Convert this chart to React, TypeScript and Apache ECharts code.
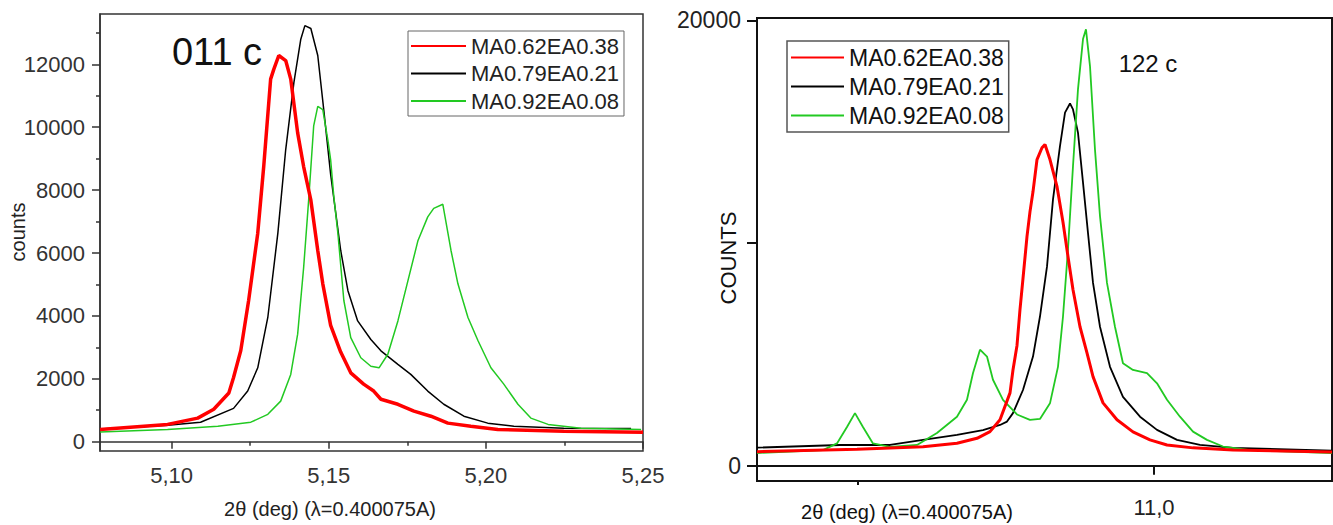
import React, { useEffect, useRef } from "react";
import * as echarts from "echarts";

// ---- DATA ----
const seriesNames = ["MA0.62EA0.38", "MA0.79EA0.21", "MA0.92EA0.08"];

// Left panel (011 c): [2theta, counts]
const leftRed: number[][] = [
  [5.0772, 390], [5.0987, 550], [5.1083, 750], [5.1134, 1030], [5.1182, 1550], [5.1197, 2040],
  [5.122, 2900], [5.1245, 4490], [5.1274, 6630], [5.1293, 8750], [5.1315, 11530], [5.1325, 11840],
  [5.1341, 12280], [5.1363, 12120], [5.1379, 11530], [5.1401, 9820], [5.142, 8750], [5.1443, 7680],
  [5.1465, 6080], [5.1481, 5020], [5.1506, 3700], [5.1538, 2850], [5.157, 2190], [5.1611, 1830],
  [5.1643, 1610], [5.1666, 1350], [5.172, 1190], [5.1771, 970], [5.1825, 810], [5.1879, 590],
  [5.1952, 490], [5.2038, 390], [5.2248, 330], [5.25, 300],
];
const leftBlack: number[][] = [
  [5.0772, 400], [5.0987, 520], [5.1092, 620], [5.1197, 1060], [5.1242, 1610], [5.1274, 2350],
  [5.1306, 3950], [5.1338, 6630], [5.1363, 9290], [5.1389, 11420], [5.1411, 12800], [5.1424, 13230],
  [5.1443, 13140], [5.1465, 12280], [5.1484, 10560], [5.1506, 8500], [5.1538, 6080], [5.1561, 4800],
  [5.1592, 3840], [5.1634, 3250], [5.1666, 2890], [5.172, 2460], [5.1761, 2140], [5.1815, 1610],
  [5.1866, 1190], [5.193, 810], [5.2006, 590], [5.2089, 490], [5.2248, 430], [5.2462, 420],
];
const leftGreen: number[][] = [
  [5.0772, 310], [5.0987, 390], [5.1147, 490], [5.1252, 620], [5.1306, 870], [5.1347, 1290],
  [5.1379, 2140], [5.1401, 3420], [5.142, 5530], [5.1436, 7680], [5.1452, 10040], [5.1465, 10660],
  [5.1481, 10560], [5.1497, 9600], [5.1506, 8960], [5.1516, 7800], [5.1529, 6630], [5.1548, 4490],
  [5.157, 3310], [5.1602, 2670], [5.1634, 2400], [5.166, 2350], [5.1688, 2780], [5.172, 3840],
  [5.1752, 5120], [5.1784, 6400], [5.1815, 7150], [5.1834, 7420], [5.1863, 7550], [5.1889, 6080],
  [5.1911, 5020], [5.1943, 3950], [5.1975, 3210], [5.2016, 2350], [5.2057, 1830], [5.2102, 1190],
  [5.2143, 750], [5.2198, 550], [5.2303, 430], [5.2494, 390],
];

// Right panel (122 c): [2theta, counts]
const rightRed: number[][] = [
  [10.93294, 630], [10.94983, 740], [10.96098, 855], [10.96672, 1010], [10.9701, 1230], [10.9723, 1530],
  [10.97399, 2060], [10.97568, 3270], [10.97618, 4300], [10.97686, 5400], [10.97736, 7000], [10.97787, 8400],
  [10.97855, 10300], [10.97905, 11400], [10.97956, 12300], [10.98024, 13750], [10.98108, 14280],
  [10.98159, 14430], [10.98243, 13750], [10.98361, 12550], [10.98463, 10930], [10.98547, 9400],
  [10.98632, 7900], [10.9875, 6240], [10.98868, 5070], [10.9897, 4000], [10.99139, 2820], [10.99375, 2060],
  [10.99645, 1520], [10.99932, 1160], [11.0022, 930], [11.00659, 800], [11.01334, 700], [11.03007, 620],
];
const rightBlack: number[][] = [
  [10.93294, 810], [10.94696, 930], [10.95541, 930], [10.96098, 1160], [10.96672, 1380], [10.97111, 1600],
  [10.97399, 1830], [10.97517, 1980], [10.97618, 2360], [10.97787, 3400], [10.97956, 4900], [10.98074, 6700],
  [10.98193, 8950], [10.98294, 11960], [10.98412, 14350], [10.98497, 15860], [10.98581, 16270],
  [10.98632, 16000], [10.98716, 14960], [10.98801, 12710], [10.98885, 10460], [10.9897, 8210],
  [10.99088, 6240], [10.99257, 4440], [10.99476, 3090], [10.99764, 2200], [11.00051, 1610], [11.00389, 1160],
  [11.00777, 930], [11.01334, 800], [11.03007, 680],
];
const rightGreen: number[][] = [
  [10.93294, 570], [10.94409, 700], [10.94645, 1000], [10.94814, 1740], [10.94949, 2360], [10.95084, 1740],
  [10.95253, 1000], [10.95541, 840], [10.95997, 930], [10.96334, 1470], [10.96672, 2200], [10.96841, 2960],
  [10.96943, 4160], [10.97061, 5210], [10.97179, 4900], [10.9728, 3860], [10.97449, 2960], [10.97686, 2300],
  [10.97905, 2060], [10.98074, 2100], [10.98243, 2800], [10.98378, 4440], [10.98463, 6700], [10.98547, 9710],
  [10.98632, 13460], [10.98716, 16900], [10.98801, 19160], [10.98851, 19600], [10.98919, 17950],
  [10.99003, 14210], [10.99088, 11210], [10.99206, 8210], [10.99341, 6240], [10.99476, 4600], [10.99645, 4300],
  [10.99882, 4160], [11.00051, 3700], [11.0022, 2960], [11.00439, 2200], [11.00659, 1530], [11.00895, 1160],
  [11.01166, 860], [11.01622, 700], [11.03007, 570],
];

// Ticks
const leftXMajor = [5.1, 5.15, 5.2, 5.25];
const leftXMinor = [5.125, 5.175, 5.225];
const leftYMajor = [0, 2000, 4000, 6000, 8000, 10000, 12000];
const leftYMinor = [1000, 3000, 5000, 7000, 9000, 11000, 13000];
const rightXMajor = [11.0];
const rightXMinor = [10.95];
const rightYTicks = [0, 10000, 20000];
const rightYLabels = [0, 20000];

const colors = ["#ff0000", "#000000", "#22c922"];
const FONT = "Liberation Sans";
const AXIS = "#333333";

export default function App() {
  const ref = useRef<HTMLDivElement>(null);
  useEffect(() => {
    if (!ref.current) return;
    const chart = echarts.init(ref.current, undefined, { renderer: "svg" });
    const comma = (v: number, d: number) => v.toFixed(d).replace(".", ",");
    const axisLine = (w: number, c: string) => ({ show: true, lineStyle: { color: c, width: w } });
    const option: any = {
      animation: false,
      backgroundColor: "#ffffff",
      textStyle: { fontFamily: FONT },
      grid: [
        { left: 100, top: 14, width: 543, height: 437, show: true, borderColor: AXIS, borderWidth: 1.5, backgroundColor: "transparent" },
        { left: 757, top: 18, width: 575, height: 463, show: true, borderColor: "#111", borderWidth: 2, backgroundColor: "transparent" },
      ],
      xAxis: [
        {
          gridIndex: 0, type: "value", position: "bottom", min: 5.0772, max: 5.25,
          axisLine: axisLine(1.5, AXIS), splitLine: { show: false },
          axisTick: { show: true, customValues: leftXMajor, length: 7, lineStyle: { color: AXIS, width: 1.5 } },
          axisLabel: { customValues: leftXMajor, formatter: (v: number) => comma(v, 2), fontSize: 22, color: "#333", margin: 13 },
        },
        {
          gridIndex: 0, type: "value", position: "bottom", min: 5.0772, max: 5.25,
          axisLine: { show: false }, splitLine: { show: false },
          axisTick: { show: true, customValues: leftXMinor, length: 4, lineStyle: { color: AXIS, width: 1.5 } },
          axisLabel: { show: false },
        },
        {
          gridIndex: 1, type: "value", position: "bottom", min: 10.93294, max: 11.03007,
          axisLine: axisLine(2, "#111"), splitLine: { show: false },
          axisTick: { show: true, customValues: rightXMajor, length: 9, lineStyle: { color: "#111", width: 2 } },
          axisLabel: { customValues: rightXMajor, formatter: (v: number) => comma(v, 1), fontSize: 22, color: "#222", margin: 15 },
        },
        {
          gridIndex: 1, type: "value", position: "bottom", min: 10.93294, max: 11.03007,
          axisLine: { show: false }, splitLine: { show: false },
          axisTick: { show: true, customValues: rightXMinor, length: 4, lineStyle: { color: "#111", width: 2 } },
          axisLabel: { show: false },
        },
      ],
      yAxis: [
        {
          gridIndex: 0, type: "value", position: "left", min: -296, max: 13600,
          axisLine: axisLine(1.5, AXIS), splitLine: { show: false },
          axisTick: { show: true, customValues: leftYMajor, length: 8, lineStyle: { color: AXIS, width: 1.5 } },
          axisLabel: { customValues: leftYMajor, formatter: (v: number) => String(Math.round(v)), fontSize: 22, color: "#333", margin: 15 },
        },
        {
          gridIndex: 0, type: "value", position: "left", min: -296, max: 13600,
          axisLine: { show: false }, splitLine: { show: false },
          axisTick: { show: true, customValues: leftYMinor, length: 4, lineStyle: { color: AXIS, width: 1.5 } },
          axisLabel: { show: false },
        },
        {
          gridIndex: 1, type: "value", position: "left", min: -688, max: 20108,
          axisLine: axisLine(2, "#111"), splitLine: { show: false },
          axisTick: { show: true, customValues: rightYTicks, length: 10, lineStyle: { color: "#111", width: 2 } },
          axisLabel: { customValues: rightYLabels, formatter: (v: number) => String(Math.round(v)), fontSize: 23, color: "#222", margin: 16 },
        },
      ],
      legend: [
        {
          orient: "vertical", left: 408, top: 31, data: seriesNames,
          itemWidth: 55, itemHeight: 22, itemGap: 5.5, itemStyle: { opacity: 0 },
          padding: [4, 5, 4, 2], borderColor: "#666", borderWidth: 1,
          textStyle: { fontSize: 22, color: "#222", fontFamily: FONT },
        },
        {
          orient: "vertical", left: 787, top: 41, data: seriesNames,
          itemWidth: 53, itemHeight: 23, itemGap: 6, itemStyle: { opacity: 0 },
          padding: [5, 5, 5, 3], borderColor: "#555", borderWidth: 1.5,
          textStyle: { fontSize: 23, color: "#111", fontFamily: FONT },
        },
      ],
      series: [
        { name: seriesNames[0], data: leftRed, w: 3.5, g: 0 },
        { name: seriesNames[1], data: leftBlack, w: 1.5, g: 0 },
        { name: seriesNames[2], data: leftGreen, w: 1.5, g: 0 },
        { name: seriesNames[0], data: rightRed, w: 3, g: 1 },
        { name: seriesNames[1], data: rightBlack, w: 1.8, g: 1 },
        { name: seriesNames[2], data: rightGreen, w: 1.8, g: 1 },
      ].map((s, i) => ({
        type: "line",
        name: s.name,
        data: s.data,
        xAxisIndex: s.g === 0 ? 0 : 2,
        yAxisIndex: s.g === 0 ? 0 : 2,
        symbol: "none",
        smooth: false,
        color: colors[i % 3],
        lineStyle: { color: colors[i % 3], width: s.w },
        z: i % 3 === 0 ? 3 : 2,
      })),
      graphic: [
        { type: "text", x: 18, y: 232, rotation: Math.PI / 2, style: { text: "counts", font: `20px ${FONT}`, fill: "#222", align: "center", verticalAlign: "middle" } },
        { type: "text", x: 330, y: 509, style: { text: "2θ (deg) (λ=0.400075A)", font: `20px ${FONT}`, fill: "#222", align: "center", verticalAlign: "middle" } },
        { type: "text", x: 217, y: 52, style: { text: "011 c", font: `38px ${FONT}`, fill: "#111", align: "center", verticalAlign: "middle" } },
        { type: "text", x: 728, y: 258, rotation: Math.PI / 2, style: { text: "COUNTS", font: `22px ${FONT}`, fill: "#111", align: "center", verticalAlign: "middle" } },
        { type: "text", x: 907, y: 512, style: { text: "2θ (deg) (λ=0.400075A)", font: `20px ${FONT}`, fill: "#111", align: "center", verticalAlign: "middle" } },
        { type: "text", x: 1148, y: 63, style: { text: "122 c", font: `24px ${FONT}`, fill: "#111", align: "center", verticalAlign: "middle" } },
      ],
    };
    chart.setOption(option);
    return () => chart.dispose();
  }, []);
  return <div ref={ref} style={{ position: "fixed", left: 0, top: 0, width: 1333, height: 525, background: "#fff" }} />;
}
